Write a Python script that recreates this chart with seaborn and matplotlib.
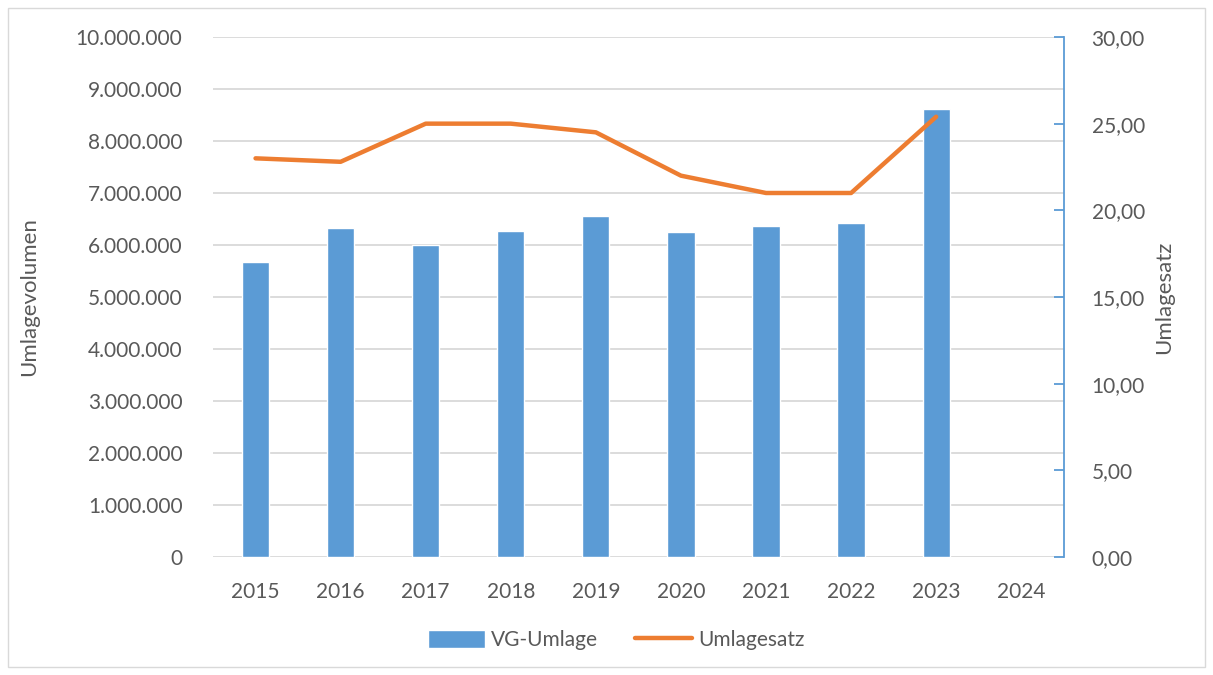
import matplotlib.pyplot as plt
import matplotlib.ticker as mticker
import numpy as np
import pandas as pd
import seaborn as sns

# Data
years = ['2015', '2016', '2017', '2018', '2019', '2020', '2021', '2022', '2023', '2024']
vg_umlage = [5670000, 6330000, 6000000, 6270000, 6560000, 6250000, 6370000, 6420000, 8620000, np.nan]
umlagesatz = [23.0, 22.8, 25.0, 25.0, 24.5, 22.0, 21.0, 21.0, 25.4, np.nan]

df = pd.DataFrame({'Jahr': years, 'VG-Umlage': vg_umlage, 'Umlagesatz': umlagesatz})

sns.set_theme(style='white')
plt.rcParams['font.family'] = ['Lato', 'DejaVu Sans']
text_col = '#595959'
blue = '#5B9BD5'
orange = '#ED7D31'

fig = plt.figure(figsize=(12.13, 6.75), dpi=100)
ax = fig.add_axes([0.1756, 0.1748, 0.7014, 0.7704])

sns.barplot(data=df, x='Jahr', y='VG-Umlage', color=blue, saturation=1,
            width=0.32, ax=ax, label='VG-Umlage')
ax.get_legend().remove()
ax.set_ylim(0, 10000000)
ax.set_xlim(-0.5, len(years) - 0.5)
ax.yaxis.set_major_locator(mticker.MultipleLocator(1000000))
ax.yaxis.set_major_formatter(mticker.FuncFormatter(
    lambda v, p: f'{v:,.0f}'.replace(',', '.')))
ax.grid(axis='y', color='#D9D9D9', linewidth=1.3)
ax.set_axisbelow(True)
for s in ax.spines.values():
    s.set_visible(False)
ax.tick_params(axis='y', length=0, labelsize=15, colors=text_col, pad=22)
ax.tick_params(axis='x', length=0, labelsize=15, colors=text_col, pad=18)
ax.set_xlabel('')
ax.set_ylabel('Umlagevolumen', fontsize=16, color=text_col, labelpad=26)

ax2 = ax.twinx()
sns.lineplot(x=np.arange(len(years)), y=df['Umlagesatz'], color=orange,
             linewidth=3.2, ax=ax2, label='Umlagesatz', legend=False)
ax2.set_ylim(0, 30)
ax2.yaxis.set_major_locator(mticker.MultipleLocator(5))
ax2.yaxis.set_major_formatter(mticker.FuncFormatter(
    lambda v, p: f'{v:.2f}'.replace('.', ',')))
for s in ax2.spines.values():
    s.set_visible(False)
ax2.spines['right'].set_visible(True)
ax2.spines['right'].set_color(blue)
ax2.spines['right'].set_linewidth(1.3)
ax2.tick_params(axis='y', direction='in', length=7, width=1.3, color=blue,
                labelsize=15, labelcolor=text_col, pad=20)
ax2.set_ylabel('Umlagesatz', fontsize=16, color=text_col, labelpad=7)
ax2.set_xlim(-0.5, len(years) - 0.5)

h1, l1 = ax.get_legend_handles_labels()
h2, l2 = ax2.get_legend_handles_labels()
fig.legend(h1 + h2, l1 + l2, loc='center', bbox_to_anchor=(0.508, 0.052),
           ncol=2, frameon=False, fontsize=15, labelcolor=text_col,
           handlelength=2.7, handleheight=1.0, handletextpad=0.3, columnspacing=1.8)

# light chart frame
fig.patches.append(plt.Rectangle((0.007, 0.012), 0.986, 0.976, transform=fig.transFigure,
                                 fill=False, edgecolor='#D9D9D9', linewidth=1))

fig.savefig('out.png', dpi=100)
